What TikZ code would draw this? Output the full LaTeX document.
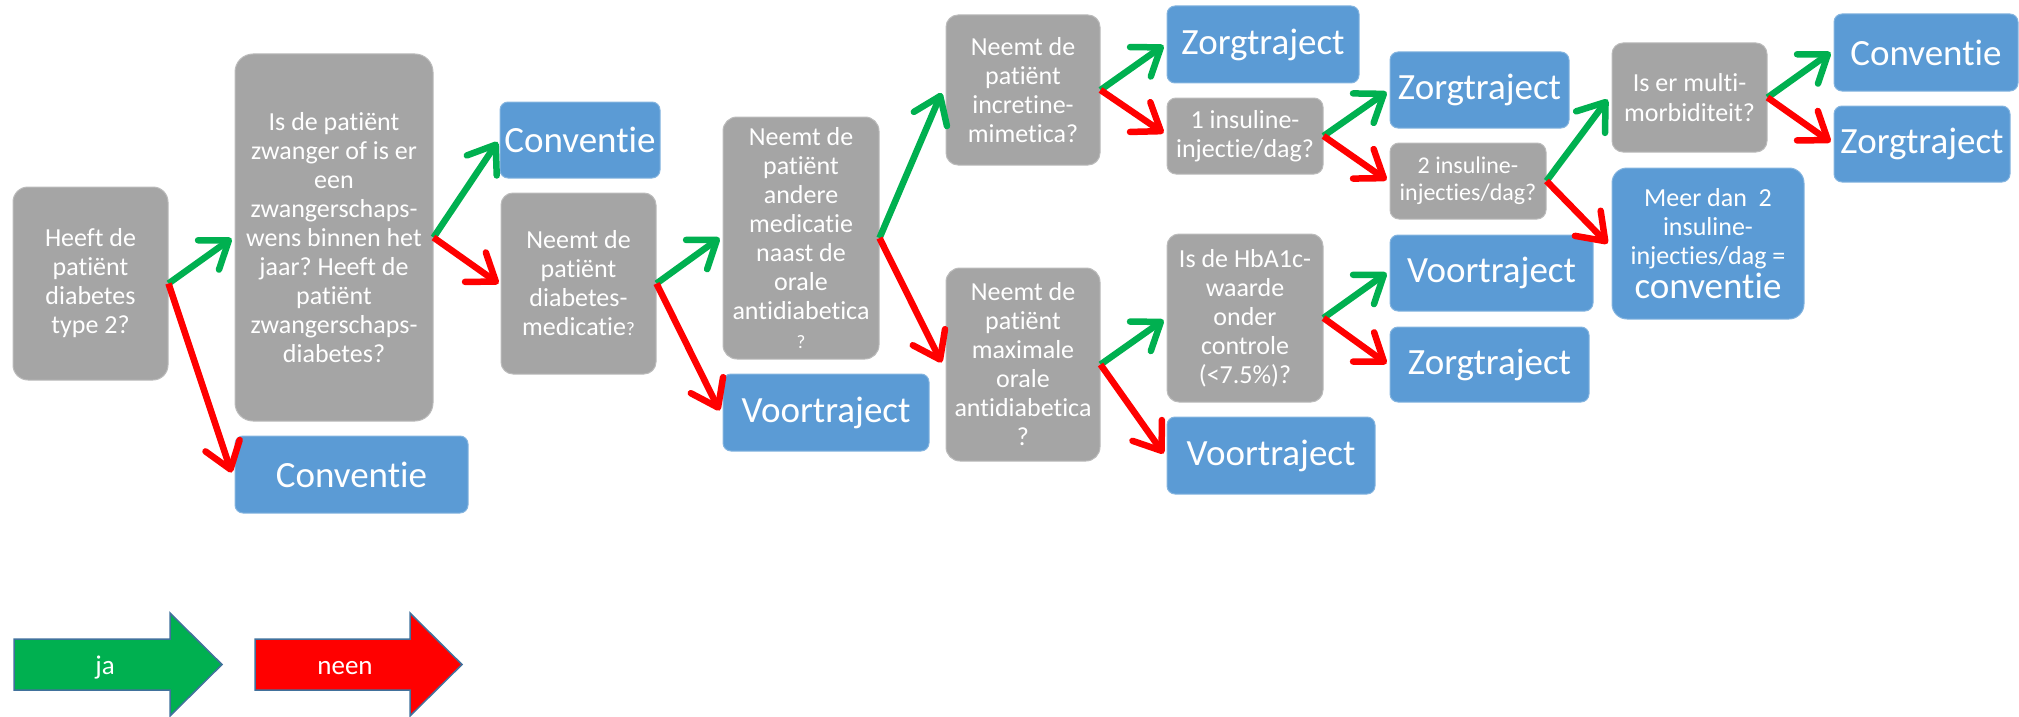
\documentclass[tikz,border=0pt]{standalone}
\usepackage{fontspec}
\setmainfont{Carlito}[Ligatures=NoCommon]
\usetikzlibrary{arrows.meta}
\definecolor{qgray}{HTML}{A5A5A5}
\definecolor{oblue}{HTML}{5B9BD5}
\definecolor{jagreen}{HTML}{00B050}
\definecolor{neered}{HTML}{FF0000}
\definecolor{legborder}{HTML}{41719C}
\newcommand{\smallq}{{\fontsize{19}{20}\selectfont ?}}
\frenchspacing
\begin{document}
\begin{tikzpicture}[x=1pt,y=-1pt,
  box/.style={rectangle, text=white, align=center, inner sep=0pt, line width=1pt},
  q/.style={box, fill=qgray, draw=qgray!75!white, rounded corners=12pt, font=\fontsize{26}{29}\selectfont},
  qs/.style={q, rounded corners=9pt},
  o/.style={box, fill=oblue, draw=oblue!75!white, rounded corners=8pt, font=\fontsize{37}{40}\selectfont},
  yes/.style={draw=jagreen, line width=6.5pt, -{Straight Barb[length=25pt,width=36pt,round]}},
  no/.style={draw=neered, line width=6.5pt, -{Straight Barb[length=25pt,width=36pt,round]}},
  legend/.style={draw=legborder, line width=1.5pt, line join=miter},
  legtext/.style={text=white, font=\fontsize{27}{30}\selectfont, inner sep=0pt}
]
\useasboundingbox (0,0) rectangle (2019,717);

% column 1
\node[q, minimum width=155pt, minimum height=193pt, rounded corners=15pt] (n1) at (90.5,283.5)
  {Heeft de\\patiënt\\diabetes\\type 2?};
% column 2
\node[q, minimum width=198pt, minimum height=367pt, rounded corners=18pt] (n2) at (334,237.5)
  {Is de patiënt\\zwanger of is er\\een\\zwangerschaps-\\wens binnen het\\jaar? Heeft de\\patiënt\\zwangerschaps-\\diabetes?};
\node[o, minimum width=233pt, minimum height=77pt] (c2) at (351.5,474.5) {Conventie};
% column 3
\node[o, minimum width=160pt, minimum height=76pt] (c1) at (580,140) {Conventie};
\node[q, minimum width=155pt, minimum height=181pt] (n4) at (578.5,283.5)
  {Neemt de\\patiënt\\diabetes-\\medicatie\smallq};
% column 4
\node[q, minimum width=156pt, minimum height=242pt, rounded corners=14pt] (n5) at (801,238)
  {Neemt de\\patiënt\\andere\\medicatie\\naast de\\orale\\antidiabetica\\\smallq};
\node[o, minimum width=206pt, minimum height=77pt] (v1) at (826,412.5) {Voortraject};
% column 5
\node[q, minimum width=154pt, minimum height=150pt] (n7) at (1023,90)
  {Neemt de\\patiënt\\incretine-\\mimetica?};
\node[q, minimum width=154pt, minimum height=193pt, rounded corners=14pt] (n8) at (1023,364.5)
  {Neemt de\\patiënt\\maximale\\orale\\antidiabetica\\?};
% column 6
\node[o, minimum width=192pt, minimum height=77pt] (z1) at (1263,44.5) {Zorgtraject};
\node[qs, minimum width=156pt, minimum height=76pt] (n10) at (1245,136)
  {1 insuline-\\injectie/dag?};
\node[q, minimum width=156pt, minimum height=168pt] (n11) at (1245,318)
  {Is de HbA1c-\\waarde\\onder\\controle\\(<7.5\%)?};
\node[o, minimum width=208pt, minimum height=77pt] (v2) at (1271,455.5) {Voortraject};
% column 7
\node[o, minimum width=179pt, minimum height=76pt] (z2) at (1479.5,90) {Zorgtraject};
\node[qs, minimum width=156pt, minimum height=76pt, font=\fontsize{24}{27}\selectfont] (n13) at (1468,181)
  {2 insuline-\\injecties/dag?};
\node[o, minimum width=203pt, minimum height=76pt] (v3) at (1491.5,273) {Voortraject};
\node[o, minimum width=199pt, minimum height=75pt] (z3) at (1489.5,364.5) {Zorgtraject};
% column 8
\node[q, minimum width=155pt, minimum height=109pt, rounded corners=11pt, font=\fontsize{26}{30}\selectfont] (m1) at (1689.5,97.5)
  {Is er multi-\\morbiditeit?};
\node[o, minimum width=192pt, minimum height=151pt, rounded corners=15pt, font=\fontsize{26}{29}\selectfont] (md) at (1708,243.5)
  {Meer dan\ \ 2\\insuline-\\injecties/dag =\\[3pt]{\fontsize{37}{40}\selectfont conventie}};
% column 9
\node[o, minimum width=184pt, minimum height=77pt] (c3) at (1926,52.5) {Conventie};
\node[o, minimum width=176pt, minimum height=76pt] (z4) at (1922,144) {Zorgtraject};

% connectors
\draw[yes] (n1.east) -- ([xshift=-3pt,yshift=-1pt]n2.west);
\draw[no]  (n1.east) -- ([xshift=-3pt,yshift=2pt]c2.west);
\draw[yes] (n2.east) -- ([xshift=-2pt,yshift=-2pt]c1.west);
\draw[no]  (n2.east) -- ([xshift=-2pt]n4.west);
\draw[yes] (n4.east) -- ([xshift=-3pt]n5.west);
\draw[no]  (n4.east) -- ([xshift=-3pt,yshift=2pt]v1.west);
\draw[yes] (n5.east) -- ([xshift=-4pt,yshift=-3pt]n7.west);
\draw[no]  (n5.east) -- ([xshift=-4pt,yshift=2pt]n8.west);
\draw[yes] (n7.east) -- ([xshift=-3pt,yshift=-1pt]z1.west);
\draw[no]  (n7.east) -- ([xshift=-3pt,yshift=3pt]n10.west);
\draw[yes] (n8.east) -- ([xshift=-3pt,yshift=-2pt]n11.west);
\draw[no]  (n8.east) -- ([xshift=-3pt,yshift=2pt]v2.west);
\draw[yes] (n10.east) -- ([xshift=-3pt,yshift=-2pt]z2.west);
\draw[no]  (n10.east) -- ([xshift=-3pt,yshift=1pt]n13.west);
\draw[yes] (n11.east) -- ([xshift=-3pt]v3.west);
\draw[no]  (n11.east) -- ([xshift=-3pt,yshift=1pt]z3.west);
\draw[yes] (n13.east) -- ([xshift=-4pt,yshift=-2pt]m1.west);
\draw[no]  (n13.east) -- ([xshift=-4pt]md.west);
\draw[yes] (m1.east) -- ([xshift=-3pt]c3.west);
\draw[no]  (m1.east) -- ([xshift=-3pt,yshift=2pt]z4.west);

% legend
\draw[legend, fill=jagreen] (14,639) -- (170,639) -- (170,613) -- (222,664.5) -- (170,716) -- (170,690) -- (14,690) -- cycle;
\draw[legend, fill=neered] (255,639) -- (410,639) -- (410,613) -- (462,664.5) -- (410,716) -- (410,690) -- (255,690) -- cycle;
\node[legtext] (ja) at (105,668) {ja};
\node[legtext] (neen) at (345,668) {neen};
\end{tikzpicture}
\end{document}
